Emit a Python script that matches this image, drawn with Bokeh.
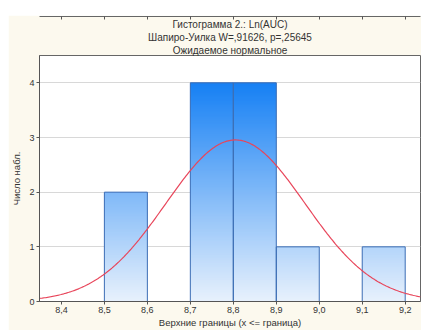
import numpy as np
from bokeh.plotting import figure
from bokeh.models import FixedTicker, LinearAxis, Range1d, Title
from bokeh.embed import file_html
from bokeh.resources import INLINE

# ---- data ----
bin_lower = [8.5, 8.6, 8.7, 8.8, 8.9, 9.0, 9.1]
bin_upper = [8.6, 8.7, 8.8, 8.9, 9.0, 9.1, 9.2]
counts = [2, 0, 4, 4, 1, 0, 1]
x_ticks = [8.4, 8.5, 8.6, 8.7, 8.8, 8.9, 9.0, 9.1, 9.2]
x_tick_labels = ["8,4", "8,5", "8,6", "8,7", "8,8", "8,9", "9,0", "9,1", "9,2"]
y_ticks = [0, 1, 2, 3, 4]
# expected normal (fitted) parameters
normal_mean = 8.805
normal_sd = 0.162
n_obs = 12
bin_width = 0.1

title_lines = ["Гистограмма 2.: Ln(AUC)", "Шапиро-Уилка W=,91626, p=,25645", "Ожидаемое нормальное"]
x_label = "Верхние границы (x <= граница)"
y_label = "Число набл."

FONT = "Liberation Sans"
TXT = "#333333"

p = figure(width=413, height=315, output_backend="svg", toolbar_location=None,
           x_range=Range1d(8.349, 9.2356), y_range=Range1d(0, 4.5),
           background_fill_color="white", border_fill_color="#fcf9ee",
           outline_line_color="#666666",
           min_border_left=29, min_border_right=1, min_border_top=40, min_border_bottom=29)
p.margin = (15, 0, 0, 8)
p.title = None

for i, line in enumerate(reversed(title_lines)):
    t = Title(text=line, align="center", text_font=FONT, text_font_size="10px",
              text_font_style="normal", text_color=TXT, standoff=0,
              text_line_height=1.05, offset=-6)
    p.add_layout(t, "above")

# gradient bars: slice each bar into thin horizontal strips coloured by height
c_low = np.array([232, 241, 252])
c_high = np.array([22, 128, 244])
ymax = max(y_ticks)
step = 0.02
L, R, B, T, C = [], [], [], [], []
for lo, hi, c in zip(bin_lower, bin_upper, counts):
    if c <= 0:
        continue
    edges = np.arange(0, c + 1e-9, step)
    if edges[-1] < c:
        edges = np.append(edges, c)
    for b, t in zip(edges[:-1], edges[1:]):
        f = min(((b + t) / 2) / ymax, 1.0)
        rgb = np.round(c_low + (c_high - c_low) * f).astype(int)
        L.append(lo); R.append(hi); B.append(b)
        T.append(min(t + step, c))  # overlap the next strip to hide seams
        C.append("#%02x%02x%02x" % tuple(rgb))
p.quad(left=L, right=R, bottom=B, top=T, fill_color=C, line_color=None)
p.quad(left=bin_lower, right=bin_upper, bottom=0, top=counts,
       fill_color=None, line_color="#3d6eb5", line_width=1)

# expected normal curve
xs = np.linspace(8.349, 9.2356, 300)
ys = n_obs * bin_width / (normal_sd * np.sqrt(2 * np.pi)) * np.exp(-0.5 * ((xs - normal_mean) / normal_sd) ** 2)
p.line(xs, ys, line_color="#e8455a", line_width=1.2)

p.xgrid.visible = False
p.ygrid.ticker = FixedTicker(ticks=y_ticks)
p.ygrid.grid_line_color = "#d8d8d8"

for ax in (p.xaxis[0], p.yaxis[0]):
    ax.axis_line_color = "#555555"
    ax.major_tick_line_color = "#555555"
    ax.major_tick_out = 3
    ax.major_tick_in = 0
    ax.minor_tick_line_color = None
    ax.major_label_text_font = FONT
    ax.major_label_text_font_size = "9px"
    ax.major_label_text_color = TXT
    ax.axis_label_text_font = FONT
    ax.axis_label_text_font_size = "9.5px"
    ax.axis_label_text_font_style = "normal"
    ax.axis_label_text_color = TXT
    ax.major_label_standoff = 2
    ax.axis_label_standoff = 1

p.xaxis.ticker = FixedTicker(ticks=x_ticks)
p.xaxis.major_label_overrides = {t: l for t, l in zip(x_ticks, x_tick_labels)}
p.xaxis.axis_label = x_label
p.yaxis.ticker = FixedTicker(ticks=y_ticks)
p.yaxis.axis_label = y_label
p.yaxis.major_label_orientation = "horizontal"
p.yaxis.axis_label_standoff = 4

top_ax = LinearAxis(ticker=FixedTicker(ticks=x_ticks),
                    major_label_overrides={t: "" for t in x_ticks},
                    major_tick_in=3, major_tick_out=0, minor_tick_line_color=None,
                    axis_line_color="#666666", major_tick_line_color="#555555",
                    major_label_standoff=0)
p.add_layout(top_ax, "above")

open("out.html", "w").write(file_html(p, INLINE))
